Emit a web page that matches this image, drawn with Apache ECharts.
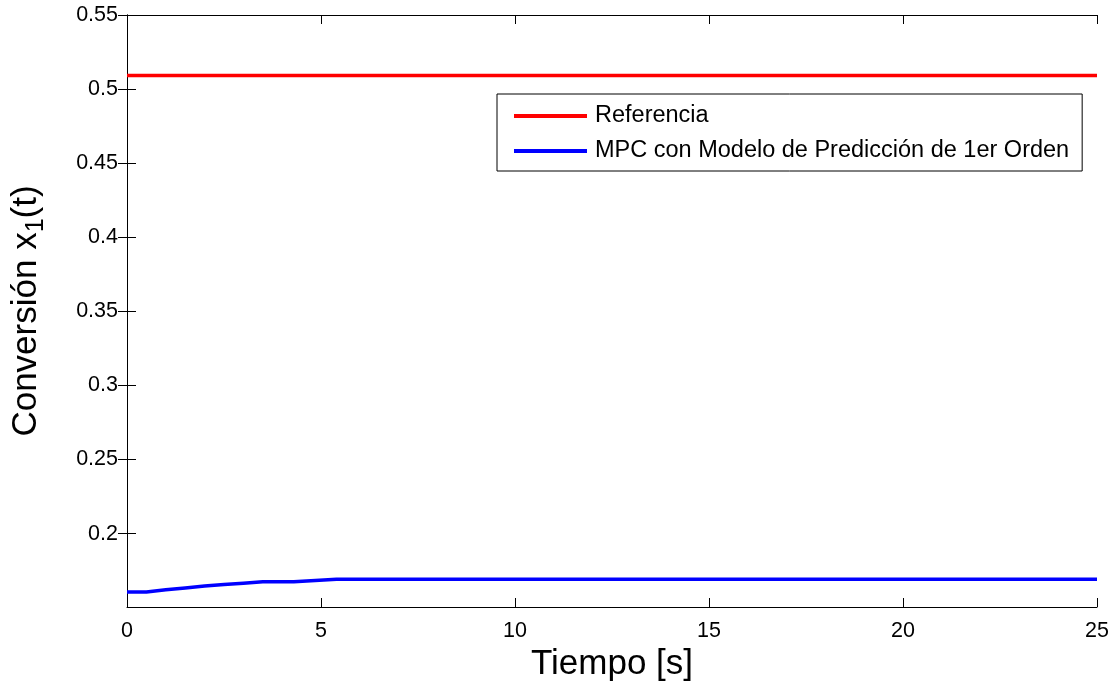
<!DOCTYPE html>
<html>
<head>
<meta charset="utf-8">
<script src="https://cdn.jsdelivr.net/npm/echarts@6/dist/echarts.min.js"></script>
<style>
  html, body { margin: 0; padding: 0; background: #fff; }
  #chart { width: 1114px; height: 685px; }
</style>
</head>
<body>
<div id="chart"></div>
<script>
// tiempo [s] y conversión
const tiempo = [0, 0.5, 1, 1.5, 2, 2.5, 3, 3.5, 4.3, 5.4, 25];
const mpcPrimerOrden = [0.1607, 0.1607, 0.1621, 0.1634, 0.1647, 0.1657, 0.1666, 0.1675, 0.1676, 0.1692, 0.1692];
const referencia = 0.5092;
const yTicks = [0.2, 0.25, 0.3, 0.35, 0.4, 0.45, 0.5, 0.55];

const font = "Liberation Sans";
const chart = echarts.init(document.getElementById("chart"));

const refData = [[0, referencia], [25, referencia]];
const mpcData = tiempo.map((t, i) => [t, mpcPrimerOrden[i]]);

const xBase = {
  type: "value",
  min: 0,
  max: 25,
  interval: 5,
  axisLine: { show: true, lineStyle: { color: "#000", width: 1 } },
  axisTick: { show: true, inside: true, length: 9, lineStyle: { color: "#000" } },
  splitLine: { show: false },
};
const yBase = {
  type: "value",
  min: 0.1505,
  max: 0.55,
  axisLine: { show: true, lineStyle: { color: "#000", width: 1 } },
  axisTick: { show: true, inside: true, length: 9, customValues: yTicks, lineStyle: { color: "#000" } },
  splitLine: { show: false },
};

chart.setOption({
  animation: false,
  backgroundColor: "#fff",
  grid: { left: 127, right: 17, top: 15, bottom: 78, outerBoundsMode: "none" },
  xAxis: [
    Object.assign({}, xBase, {
      position: "bottom",
      name: "Tiempo [s]",
      nameLocation: "middle",
      nameGap: 25,
      nameTextStyle: { fontFamily: font, fontSize: 35, color: "#000" },
      axisLabel: { fontFamily: font, fontSize: 21.5, color: "#000", margin: 13 },
    }),
    Object.assign({}, xBase, { position: "top", axisLabel: { show: false } }),
  ],
  yAxis: [
    Object.assign({}, yBase, {
      position: "left",
      name: "Conversión x{sub|1}(t)",
      nameLocation: "middle",
      nameGap: 78,
      nameTextStyle: {
        fontFamily: font, fontSize: 35, color: "#000",
        rich: { sub: { fontFamily: font, fontSize: 25, color: "#000", verticalAlign: "bottom", padding: [20, 0, 0, 0] } },
      },
      axisLabel: {
        fontFamily: font, fontSize: 21.5, color: "#000", margin: 9,
        customValues: yTicks,
        formatter: (v) => String(+v.toFixed(2)),
      },
    }),
    Object.assign({}, yBase, { position: "right", axisLabel: { show: false } }),
  ],
  legend: {
    orient: "vertical",
    left: 497,
    top: 94,
    backgroundColor: "#fff",
    borderColor: "#000",
    borderWidth: 1,
    borderRadius: 0,
    padding: [10, 13, 8, 15],
    itemWidth: 73,
    itemHeight: 20,
    itemGap: 11,
    itemStyle: { opacity: 0 },
    lineStyle: { width: 4 },
    textStyle: { fontFamily: font, fontSize: 23.5, color: "#000", padding: [0, 0, 0, 3] },
    data: ["Referencia", "MPC con Modelo de Predicción de 1er Orden"],
  },
  series: [
    {
      name: "Referencia",
      type: "line",
      data: refData,
      symbol: "none",
      lineStyle: { color: "#ff0000", width: 3.5 },
      itemStyle: { color: "#ff0000" },
    },
    {
      name: "MPC con Modelo de Predicción de 1er Orden",
      type: "line",
      data: mpcData,
      symbol: "none",
      lineStyle: { color: "#0000ff", width: 3.5 },
      itemStyle: { color: "#0000ff" },
    },
  ],
});
</script>
</body>
</html>
